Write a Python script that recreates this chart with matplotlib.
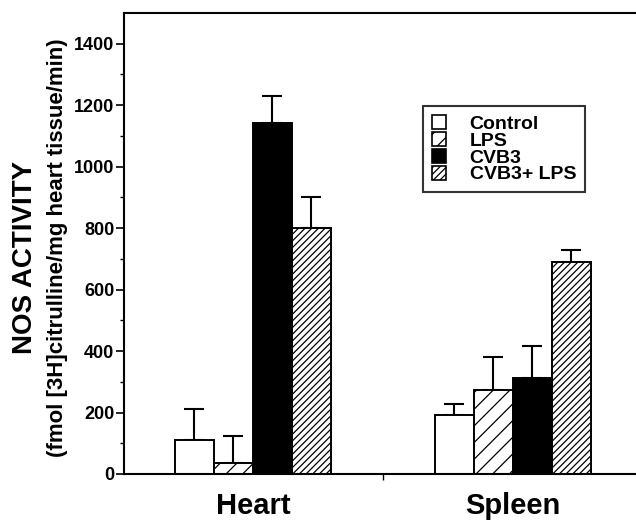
import numpy as np
import matplotlib
import matplotlib.pyplot as plt
import matplotlib.patches as patches

matplotlib.rcParams['font.family'] = ['Liberation Sans', 'DejaVu Sans']
matplotlib.rcParams['font.weight'] = 'bold'
matplotlib.rcParams['hatch.linewidth'] = 0.9

# ================= data =================
groups = ["Heart", "Spleen"]
series = ["Control", "LPS", "CVB3", "CVB3+ LPS"]
means = {
    "Control":   [110, 191],
    "LPS":       [36, 273],
    "CVB3":      [1143, 312],
    "CVB3+ LPS": [800, 690],
}
errs = {
    "Control":   [101, 36],
    "LPS":       [87, 107],
    "CVB3":      [87, 104],
    "CVB3+ LPS": [100, 40],
}

faces = {"Control": "white", "LPS": "white", "CVB3": "black", "CVB3+ LPS": "white"}
hatches = {"Control": None, "LPS": "//", "CVB3": None, "CVB3+ LPS": "/////"}

# ================= figure =================
fig = plt.figure(figsize=(6.36, 5.2), dpi=100)
ax = fig.add_axes([124 / 636, 1 - 474 / 520, 1 - 124 / 636, (474 - 13) / 520])

x = np.arange(len(groups))
width = 0.15
for i, s in enumerate(series):
    pos = x + (i - 1.5) * width
    ax.bar(pos, means[s], width, color=faces[s], edgecolor='black',
           hatch=hatches[s], linewidth=1.4, zorder=2)
    ax.errorbar(pos, means[s], yerr=[np.zeros(len(groups)), errs[s]], fmt='none',
                ecolor='black', elinewidth=1.5, capsize=7, capthick=1.5, zorder=1)

ax.set_ylim(0, 1500)
ax.set_xlim(-0.496, 1.475)
ax.set_yticks(np.arange(0, 1401, 200))
ax.set_yticks(np.arange(100, 1500, 100), minor=True)
ax.tick_params(axis='y', which='major', direction='out', length=6, width=1.2, labelsize=13, pad=1)
ax.tick_params(axis='y', which='minor', direction='out', length=3, width=1.0)
for lab in ax.get_yticklabels():
    lab.set_fontweight('bold')

ax.set_xticks([0.5])
ax.set_xticklabels([""])
ax.tick_params(axis='x', direction='out', length=4, width=1.0)

ax.spines['right'].set_visible(False)
for sp in ['left', 'bottom', 'top']:
    ax.spines[sp].set_linewidth(1.5)

for gi, g in enumerate(groups):
    ax.text(x[gi], -58, g, ha='center', va='top', fontsize=21, fontweight='bold')

fig.text(25 / 636, 1 - 257 / 520, "NOS ACTIVITY", rotation=90, ha='center', va='center',
         fontsize=20, fontweight='bold')
fig.text(58 / 636, 1 - 248 / 520, "(fmol [3H]citrulline/mg heart tissue/min)", rotation=90,
         ha='center', va='center', fontsize=16, fontweight='bold')

handles = [patches.Patch(facecolor=faces[s], edgecolor='black', hatch=hatches[s], linewidth=1.2, label=s)
           for s in series]
leg = fig.legend(handles=handles, loc='upper left', bbox_to_anchor=(423 / 636, 1 - 106 / 520),
                 frameon=True, fancybox=False, edgecolor='black', fontsize=14,
                 handlelength=0.75, handleheight=0.75, labelspacing=-0.05, handletextpad=1.2,
                 borderpad=0.45, borderaxespad=0)
leg.get_frame().set_linewidth(1.5)
for t in leg.get_texts():
    t.set_fontweight('bold')

fig.savefig("out.png", dpi=100)
